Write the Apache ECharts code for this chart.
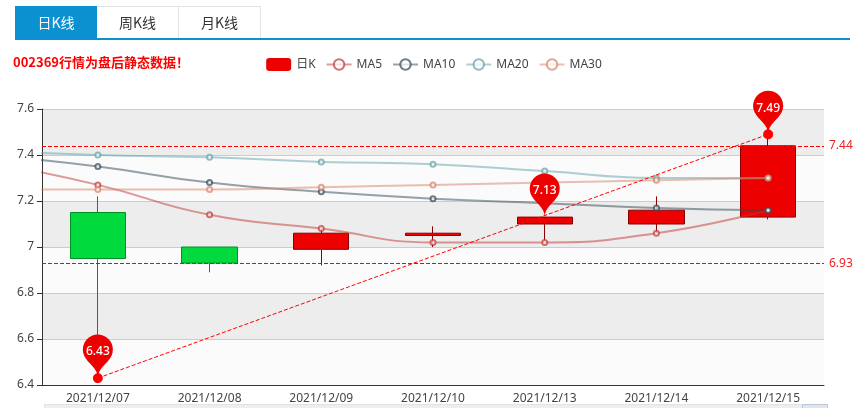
<!DOCTYPE html>
<html>
<head>
<meta charset="utf-8">
<script src="https://cdn.jsdelivr.net/npm/echarts@6/dist/echarts.min.js"></script>
<style>
html,body{margin:0;padding:0;background:#fff;}
#wrap{position:relative;width:868px;height:408px;overflow:hidden;}
#chart{position:absolute;left:0;top:0;width:868px;height:408px;}
.tabs{position:absolute;left:15px;top:6px;height:32px;display:flex;z-index:2;font-family:"Noto Sans CJK SC","Noto Sans",sans-serif;font-size:14px;}
.tab{width:80px;height:31px;line-height:31px;text-align:center;color:#333;border:1px solid #e3e3e3;border-bottom:none;box-sizing:content-box;}
.tab + .tab{border-left:none;width:81px;}
.tab.active{background:#0b90d0;color:#fff;border-color:#0b90d0;}
.bar{position:absolute;left:15px;top:38px;width:835px;height:2px;background:#0b90d0;z-index:2;}
</style>
</head>
<body>
<div id="wrap">
  <div id="chart"></div>
  <div class="tabs"><div class="tab active">日K线</div><div class="tab">周K线</div><div class="tab">月K线</div></div>
  <div class="bar"></div>
</div>
<script>
// categories (first date lies just outside the visible window)
const dates = ['2021/12/06','2021/12/07','2021/12/08','2021/12/09','2021/12/10','2021/12/13','2021/12/14','2021/12/15'];
// candle values: open, close, lowest, highest
const opens  = [null, 7.15, 7.00, 6.99, 7.05, 7.10, 7.10, 7.13];
const closes = [null, 6.95, 6.93, 7.06, 7.06, 7.13, 7.16, 7.44];
const lows   = [null, 6.43, 6.89, 6.92, 7.00, 7.03, 7.06, 7.12];
const highs  = [null, 7.22, 7.00, 7.08, 7.09, 7.13, 7.22, 7.49];
// moving averages
const ma5  = [7.37, 7.27, 7.14, 7.08, 7.02, 7.02, 7.06, 7.16];
const ma10 = [7.40, 7.35, 7.28, 7.24, 7.21, 7.19, 7.17, 7.16];
const ma20 = [7.42, 7.40, 7.39, 7.37, 7.36, 7.33, 7.30, 7.30];
const ma30 = [7.25, 7.25, 7.25, 7.26, 7.27, 7.28, 7.29, 7.30];
// extra pin
const notePinIndex = 5;
const notePinValue = 7.13;
// y ticks
const yMin = 6.4, yMax = 7.6, yStep = 0.2;

const candleData = dates.map((d, i) => opens[i] == null ? ['-','-','-','-'] : [opens[i], closes[i], lows[i], highs[i]]);
const valid = closes.map((c, i) => i).filter(i => closes[i] != null);
const maxClose = Math.max(...valid.map(i => closes[i]));
const minClose = Math.min(...valid.map(i => closes[i]));
let iLow = valid[0], iHigh = valid[0];
valid.forEach(i => { if (lows[i] < lows[iLow]) iLow = i; if (highs[i] > highs[iHigh]) iHigh = i; });

const FONT = '"Noto Sans","Noto Sans CJK SC",sans-serif';
const chart = echarts.init(document.getElementById('chart'));
const maSeries = (name, data, color) => ({
  name, type: 'line', data, smooth: true, symbol: 'emptyCircle', symbolSize: 5,
  itemStyle: { color, opacity: 0.7 }, lineStyle: { width: 2, opacity: 0.5 }, z: 3
});
chart.setOption({
  animation: false,
  textStyle: { fontFamily: FONT },
  title: { text: '002369行情为盘后静态数据！', left: 8, top: 51,
    textStyle: { color: '#f00', fontSize: 13, fontWeight: 'bold', fontFamily: '"Noto Sans CJK SC",sans-serif' } },
  legend: { top: 53, left: 'center', itemGap: 10, itemWidth: 25, itemHeight: 13,
    textStyle: { color: '#444', fontSize: 12 },
    data: [{ name: '日K', itemStyle: { color: '#ec0000', borderWidth: 0 } }, 'MA5', 'MA10', 'MA20', 'MA30'] },
  grid: { left: 42, right: 44, top: 109, bottom: 23 },
  xAxis: {
    type: 'category', data: dates, boundaryGap: true,
    axisLine: { lineStyle: { color: '#333' } },
    axisTick: { lineStyle: { color: '#333' } },
    axisLabel: { color: '#444', fontSize: 12, margin: 8 },
    splitLine: { show: false }
  },
  yAxis: {
    type: 'value', min: yMin, max: yMax, interval: yStep, scale: true,
    axisLine: { show: true, lineStyle: { color: '#333' } },
    axisTick: { show: true, lineStyle: { color: '#333' } },
    axisLabel: { color: '#444', fontSize: 12 },
    splitLine: { lineStyle: { color: '#cccccc' } },
    splitArea: { show: true, areaStyle: { color: ['#fbfbfb', '#ededed'] } }
  },
  dataZoom: [{
    type: 'inside', xAxisIndex: 0, startValue: 1, endValue: dates.length - 1, filterMode: 'none'
  }],
  graphic: [
    { type: 'rect', left: 44, top: 404, shape: { width: 758, height: 10 },
      style: { fill: '#eeeeee', stroke: '#e2e2e2', lineWidth: 1 }, silent: true },
    { type: 'rect', left: 802, top: 404, shape: { width: 25, height: 10 },
      style: { fill: '#dfe5ee', stroke: '#bcc6d4', lineWidth: 1 }, silent: true }
  ],
  series: [
    {
      name: '日K', type: 'candlestick', data: candleData, barWidth: '50%',
      itemStyle: { color: '#ec0000', color0: '#00da3c', borderColor: '#8a0000', borderColor0: '#008f28' },
      z: 2,
      markPoint: {
        symbol: 'pin', symbolSize: 50,
        itemStyle: { color: '#ec0000' },
        label: { color: '#fff', fontSize: 12, fontWeight: 500 },
        data: [
          { coord: [dates[iLow], lows[iLow]], value: lows[iLow] },
          { coord: [dates[iHigh], highs[iHigh]], value: highs[iHigh] },
          { coord: [dates[notePinIndex], notePinValue], value: notePinValue }
        ],
        z: 10
      },
      markLine: {
        symbol: ['none', 'none'],
        lineStyle: { color: '#f00', type: 'dashed', width: 1 },
        label: { color: '#e22', fontSize: 12, position: 'end', formatter: p => p.value },
        emphasis: { disabled: true },
        data: [
          { yAxis: maxClose },
          { yAxis: minClose },
          [
            { coord: [dates[iLow], lows[iLow]], symbol: 'circle', symbolSize: 10, label: { show: false } },
            { coord: [dates[iHigh], highs[iHigh]], symbol: 'circle', symbolSize: 10, label: { show: false } }
          ]
        ]
      }
    },
    maSeries('MA5', ma5, '#c23531'),
    maSeries('MA10', ma10, '#2f4554'),
    maSeries('MA20', ma20, '#61a0a8'),
    maSeries('MA30', ma30, '#d48265')
  ]
});
</script>
</body>
</html>
